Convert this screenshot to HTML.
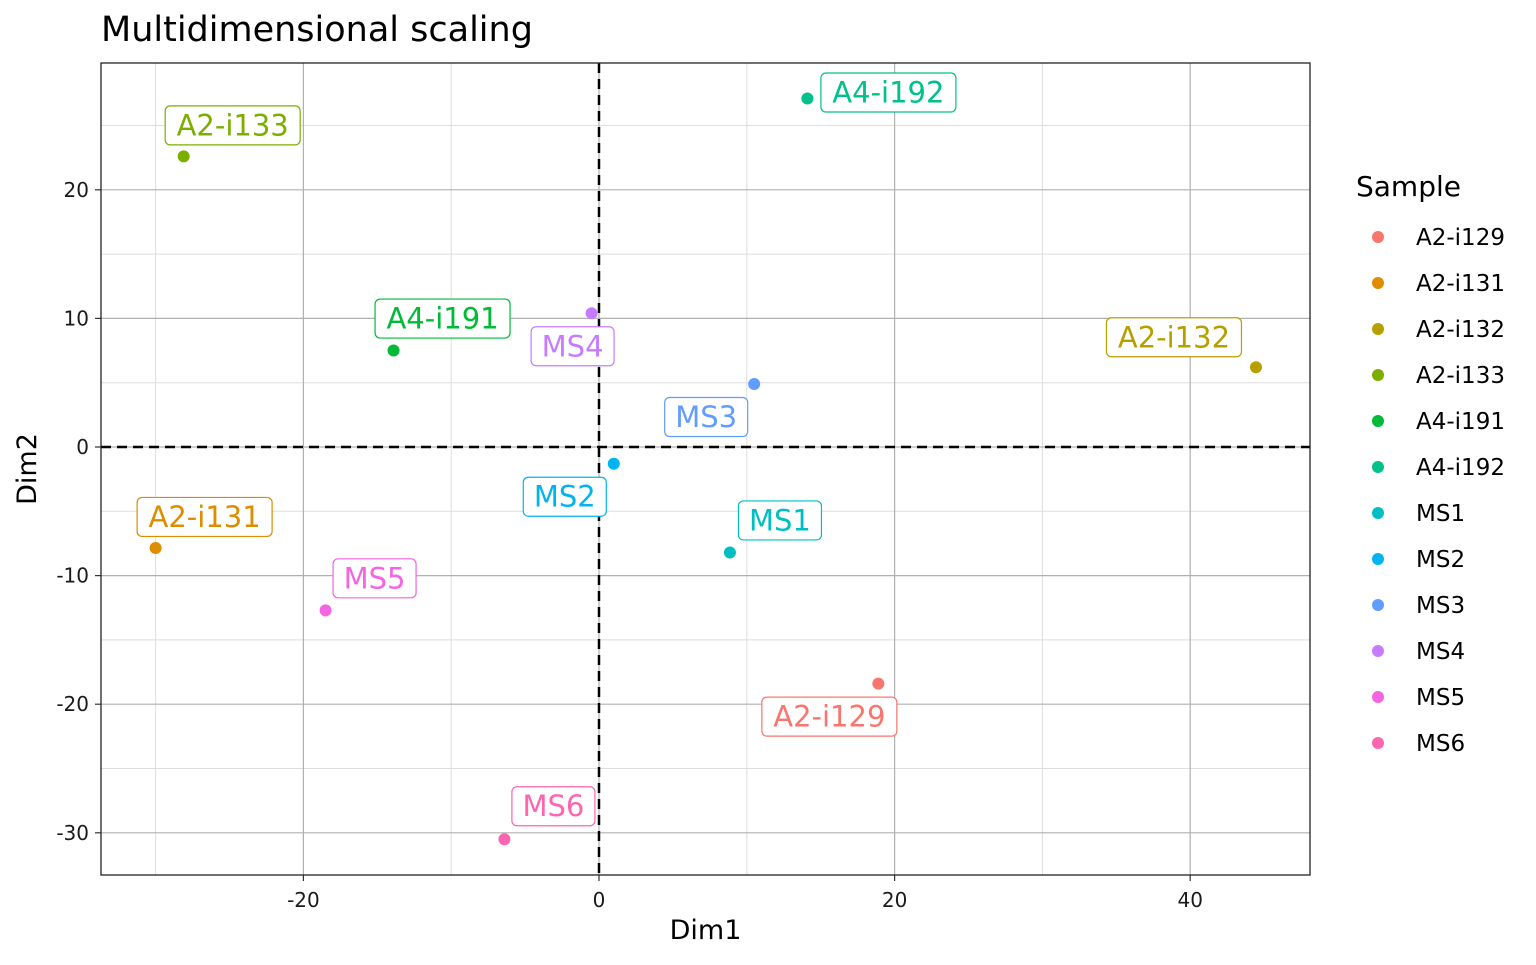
<!DOCTYPE html>
<html><head><meta charset="utf-8"><style>
body{margin:0;background:#fff;}
svg text{font-family:"DejaVu Sans","Liberation Sans",sans-serif;}
</style></head><body>
<svg id="chart" width="1536" height="960" xmlns="http://www.w3.org/2000/svg">
<rect width="1536" height="960" fill="#fff"/>
<text x="101" y="41" font-size="35" fill="#000">Multidimensional scaling</text>
<g id="grid"></g>
<g id="axes"></g>
<g id="points"></g>
<g id="legend"></g>
</svg>
<script>
const samples=["A2-i129","A2-i131","A2-i132","A2-i133","A4-i191","A4-i192","MS1","MS2","MS3","MS4","MS5","MS6"];
const dim1=[18.9,-30.0,44.45,-28.1,-13.9,14.1,8.86,1.0,10.5,-0.5,-18.5,-6.4];
const dim2=[-18.4,-7.85,6.2,22.6,7.5,27.1,-8.2,-1.3,4.9,10.4,-12.7,-30.5];
const colors=["#F8766D","#DE8C00","#B79F00","#7CAE00","#00BA38","#00C08B","#00BFC4","#00B4F0","#619CFF","#C77CFF","#F564E3","#FF64B0"];
const xTicks=[-20,0,20,40];
const yTicks=[-30,-20,-10,0,10,20];
const xMinor=[-30,-10,10,30];
const yMinor=[-25,-15,-5,5,15,25];
// label offsets (px) from points (repel layout)
const lblDx=[-49,49,-82,49,49,81,50,-49,-48,-19,49,49];
const lblDy=[33,-31,-30,-31,-32,-6,-32,33,33,33,-32,-33];

const L=101,R=1310,T=63,B=875;
const sx=v=>599+v*14.78;
const sy=v=>447-v*12.86;
const NS="http://www.w3.org/2000/svg";
function mk(tag,attrs,parent){const e=document.createElementNS(NS,tag);for(const k in attrs)e.setAttribute(k,attrs[k]);parent.appendChild(e);return e;}
const grid=document.getElementById('grid'),axes=document.getElementById('axes'),pts=document.getElementById('points'),leg=document.getElementById('legend');
xMinor.forEach(v=>{const e=mk('line',{x1:sx(v),x2:sx(v),y1:T,y2:B,stroke:'#dedede','stroke-width':1},grid);

});
yMinor.forEach(v=>{const e=mk('line',{x1:L,x2:R,y1:sy(v),y2:sy(v),stroke:'#dedede','stroke-width':1},grid);

});
xTicks.forEach(v=>{const e=mk('line',{x1:sx(v),x2:sx(v),y1:T,y2:B,stroke:'#b0b0b0','stroke-width':1.2},grid);


const tk=mk('line',{x1:sx(v),x2:sx(v),y1:B,y2:B+6,stroke:'#333','stroke-width':1.2},axes);


const t=mk('text',{x:sx(v),y:B+32,'font-size':20,'text-anchor':'middle',fill:'#1a1a1a'},axes);t.textContent=v;

});
yTicks.forEach(v=>{const e=mk('line',{x1:L,x2:R,y1:sy(v),y2:sy(v),stroke:'#b0b0b0','stroke-width':1.2},grid);


const tk=mk('line',{x1:L-6,x2:L,y1:sy(v),y2:sy(v),stroke:'#333','stroke-width':1.2},axes);


const t=mk('text',{x:L-12,y:sy(v)+7,'font-size':20,'text-anchor':'end',fill:'#1a1a1a'},axes);t.textContent=v;

});
const h0=mk('line',{x1:L,x2:R,y1:sy(0),y2:sy(0),stroke:'#000','stroke-width':2.5,'stroke-dasharray':'10,6'},axes);


const v0=mk('line',{x1:sx(0),x2:sx(0),y1:T,y2:B,stroke:'#000','stroke-width':2.5,'stroke-dasharray':'10,6'},axes);


const fr=mk('rect',{x:L,y:T,width:R-L,height:B-T,fill:'none',stroke:'#222','stroke-width':1.3},axes);


const xt=mk('text',{x:(L+R)/2,y:939,'font-size':27,'text-anchor':'middle',fill:'#000'},axes);xt.textContent='Dim1';


const yt=mk('text',{x:36,y:(T+B)/2,'font-size':27,'text-anchor':'middle',fill:'#000',transform:`rotate(-90 36 ${(T+B)/2})`},axes);yt.textContent='Dim2';



samples.forEach((s,i)=>{
 const px=sx(dim1[i]),py=sy(dim2[i]);
 const cx=px+lblDx[i],cy=py+lblDy[i];
 const w=s.length>3?135:83;
 const r=mk('rect',{x:cx-w/2,y:cy-19.5,width:w,height:39,rx:5,fill:'#fff',stroke:colors[i],'stroke-width':1.2},pts);
 
 
 const t=mk('text',{x:cx,y:cy+10,'font-size':29,'text-anchor':'middle',fill:colors[i]},pts);t.textContent=s;
 
 
 const c=mk('circle',{cx:px,cy:py,r:6,fill:colors[i]},pts);
 
 
 const ld=mk('circle',{cx:1378,cy:237+i*46,r:6,fill:colors[i]},leg);
 
 
 const lt=mk('text',{x:1416,y:245+i*46,'font-size':23,fill:'#000'},leg);lt.textContent=s;
 
 
});
const lg=mk('text',{x:1356,y:196,'font-size':28,fill:'#000'},leg);lg.textContent='Sample';


</script>
</body></html>
